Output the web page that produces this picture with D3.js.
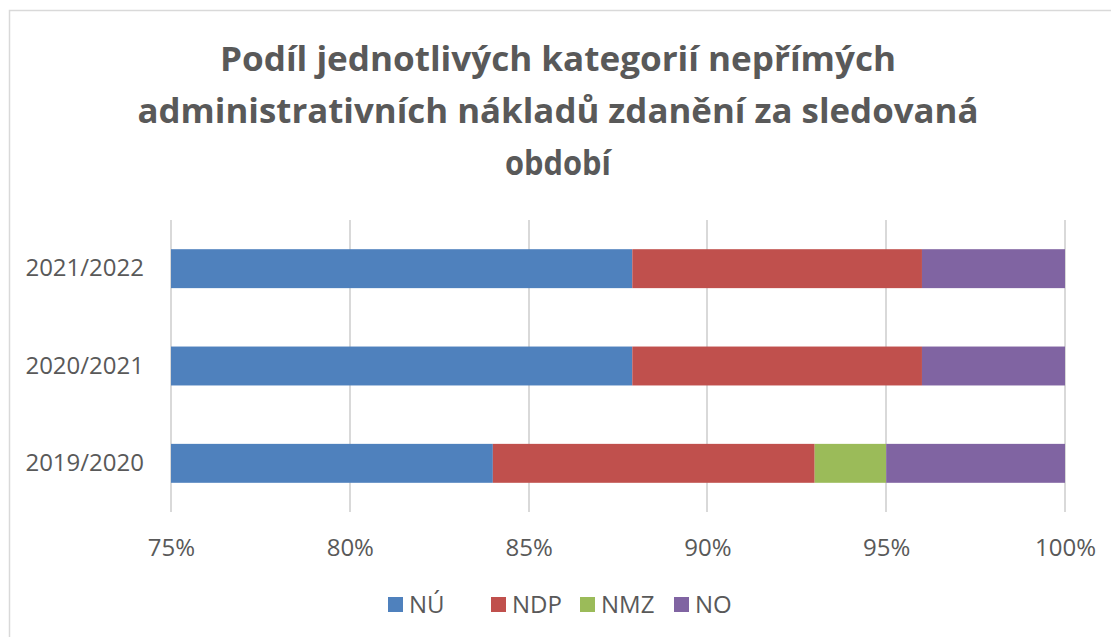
<!DOCTYPE html>
<html>
<head>
<meta charset="utf-8">
<script src="https://cdn.jsdelivr.net/npm/d3@7"></script>
<style>
  body { margin: 0; background: #fff; }
  text { font-family: "Open Sans", sans-serif; fill: #595959; }
</style>
</head>
<body>
<svg id="chart" width="1111" height="637"></svg>
<script>
// Podíl kategorií nepřímých administrativních nákladů

const titleLines = [
  'Podíl jednotlivých kategorií nepřímých',
  'administrativních nákladů zdanění za sledovaná',
  'období'
];

// categories, bottom to top as drawn
const periods = ['2019/2020', '2020/2021', '2021/2022'];
const seriesNames = ['NÚ', 'NDP', 'NMZ', 'NO'];
const seriesColors = ['#4F81BD', '#C0504D', '#9BBB59', '#8064A2'];

// shares per period (same order as periods)
const valNU  = [0.84, 0.879, 0.879];
const valNDP = [0.09, 0.081, 0.081];
const valNMZ = [0.02, 0.0, 0.0];
const valNO  = [0.05, 0.04, 0.04];

const xTicks = [0.75, 0.80, 0.85, 0.90, 0.95, 1.00];

const rows = periods.map((p, i) => ({
  period: p,
  'NÚ': valNU[i],
  'NDP': valNDP[i],
  'NMZ': valNMZ[i],
  'NO': valNO[i]
}));

const svg = d3.select('#chart');

// outer chart border
svg.append('rect')
  .attr('x', 9.5).attr('y', 10.5)
  .attr('width', 1120).attr('height', 640)
  .attr('fill', 'none')
  .attr('stroke', '#D9D9D9')
  .attr('stroke-width', 1.5);

// title
const titleWidths = [676, 841, 106];
svg.append('g')
  .selectAll('text')
  .data(titleLines)
  .join('text')
    .attr('x', 558)
    .attr('y', (d, i) => 71 + i * 52)
    .attr('text-anchor', 'middle')
    .attr('font-size', 34)
    .attr('font-weight', 700)
    .attr('textLength', (d, i) => titleWidths[i])
    .attr('lengthAdjust', 'spacingAndGlyphs')
    .text(d => d);

// scales
const x = d3.scaleLinear()
  .domain([0.75, 1])
  .range([171, 1065]);

const y = d3.scaleBand()
  .domain(periods.slice().reverse())
  .range([220, 512])
  .paddingInner(0.6)
  .paddingOuter(0.3);

// gridlines
svg.append('g')
  .selectAll('line')
  .data(xTicks)
  .join('line')
    .attr('x1', d => Math.round(x(d)))
    .attr('x2', d => Math.round(x(d)))
    .attr('y1', 220)
    .attr('y2', 512)
    .attr('stroke', '#D9D9D9')
    .attr('stroke-width', 2);

// stacked bars
const stack = d3.stack().keys(seriesNames)(rows);
const xMin = x.range()[0];

svg.append('g')
  .selectAll('g')
  .data(stack)
  .join('g')
    .attr('fill', (d, i) => seriesColors[i])
  .selectAll('rect')
  .data(d => d)
  .join('rect')
    .attr('x', d => Math.max(xMin, x(d[0])))
    .attr('y', d => y(d.data.period))
    .attr('width', d => Math.max(0, x(d[1]) - Math.max(xMin, x(d[0]))))
    .attr('height', y.bandwidth());

// x axis labels
const xAxis = svg.append('g')
  .attr('transform', 'translate(0,512)')
  .call(d3.axisBottom(x).tickValues(xTicks).tickFormat(d3.format('.0%')).tickSize(0).tickPadding(44));
xAxis.select('.domain').remove();
xAxis.selectAll('text')
  .attr('font-size', 24)
  .attr('dy', null)
  .style('fill', '#595959')
  .style('font-family', '"Open Sans", sans-serif');

// y axis labels
const yAxis = svg.append('g')
  .attr('transform', 'translate(171,0)')
  .call(d3.axisLeft(y).tickSize(0).tickPadding(27));
yAxis.select('.domain').remove();
yAxis.selectAll('text')
  .attr('font-size', 24)
  .style('fill', '#595959')
  .style('font-family', '"Open Sans", sans-serif');

// legend
const legendX = [388, 491, 580, 674];
const legend = svg.append('g')
  .selectAll('g')
  .data(seriesNames)
  .join('g')
    .attr('transform', (d, i) => `translate(${legendX[i]},597)`);

legend.append('rect')
  .attr('width', 15)
  .attr('height', 15)
  .attr('fill', (d, i) => seriesColors[i]);

legend.append('text')
  .attr('x', 21)
  .attr('y', 7.5)
  .attr('dy', '0.35em')
  .attr('font-size', 24)
  .text(d => d);
</script>
</body>
</html>
